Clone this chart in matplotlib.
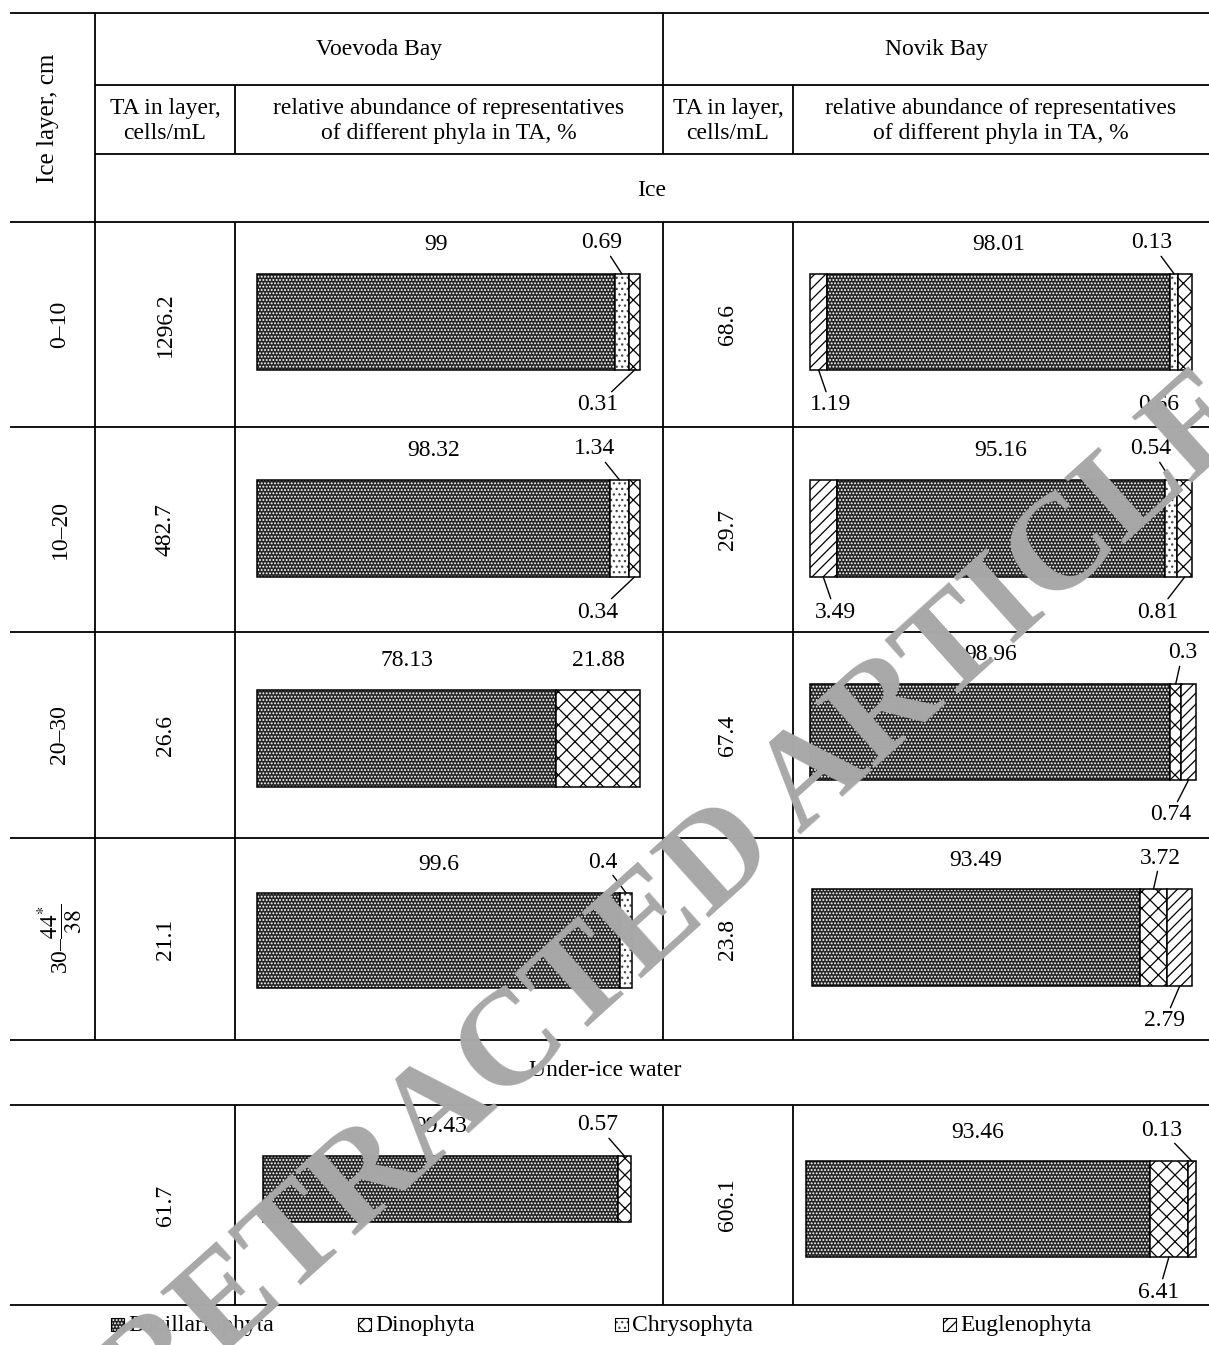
import matplotlib.pyplot as plt

plt.rcParams["font.family"] = ["Liberation Serif", "DejaVu Serif"]
plt.rcParams["mathtext.fontset"] = "stix"
plt.rcParams["hatch.linewidth"] = 0.9

W, H = 1209, 1345

# ---------------- data ----------------
phyla = ["Bacillariophyta", "Dinophyta", "Chrysophyta", "Euglenophyta"]
layers = ["0–10", "10–20", "20–30", "30–$\\dfrac{44^{*}}{38}$", ""]

ta_voevoda = [1296.2, 482.7, 26.6, 21.1, 61.7]
ta_novik = [68.6, 29.7, 67.4, 23.8, 606.1]

# segments of each bar, left to right
voevoda_names = [
    ["Bacillariophyta", "Chrysophyta", "Dinophyta"],
    ["Bacillariophyta", "Chrysophyta", "Dinophyta"],
    ["Bacillariophyta", "Dinophyta"],
    ["Bacillariophyta", "Chrysophyta"],
    ["Bacillariophyta", "Dinophyta"],
]
voevoda_pct = [
    [99, 0.69, 0.31],
    [98.32, 1.34, 0.34],
    [78.13, 21.88],
    [99.6, 0.4],
    [99.43, 0.57],
]
novik_names = [
    ["Euglenophyta", "Bacillariophyta", "Chrysophyta", "Dinophyta"],
    ["Euglenophyta", "Bacillariophyta", "Chrysophyta", "Dinophyta"],
    ["Bacillariophyta", "Dinophyta", "Euglenophyta"],
    ["Bacillariophyta", "Dinophyta", "Euglenophyta"],
    ["Bacillariophyta", "Dinophyta", "Euglenophyta"],
]
novik_pct = [
    [1.19, 98.01, 0.13, 0.66],
    [3.49, 95.16, 0.54, 0.81],
    [98.96, 0.3, 0.74],
    [93.49, 3.72, 2.79],
    [93.46, 6.41, 0.13],
]

# ---------------- layout / style ----------------
styles = {
    "Bacillariophyta": dict(face="#262626", hc="white", hatch="....."),
    "Dinophyta": dict(face="white", hc="black", hatch="xx"),
    "Chrysophyta": dict(face="white", hc="#444444", hatch="..."),
    "Euglenophyta": dict(face="white", hc="black", hatch="///"),
}

# label placement: main = above centre, top / bottom = with leader line
voevoda_sides = [["main", "top", "bottom"], ["main", "top", "bottom"],
                 ["main", "main"], ["main", "top"], ["main", "top"]]
novik_sides = [["bottom", "main", "top", "bottom"], ["bottom", "main", "top", "bottom"],
               ["main", "top", "bottom"], ["main", "top", "bottom"],
               ["main", "bottom", "top"]]
voevoda_dx = [[0, -20, -37], [0, -25, -37], [0, 0], [0, -23], [0, -27]]
novik_dx = [[12, 0, -23, -27], [12, 0, -20, -27], [0, 7, -18], [0, 7, -15], [0, -10, -30]]

# bar boxes in pixels (x0, x1, y0, y1)
voevoda_box = [(257, 640, 274, 370), (257, 640, 480, 577), (257, 640, 690, 787),
               (257, 632, 893, 988), (263, 631, 1156, 1222)]
novik_box = [(810, 1192, 274, 370), (810, 1192, 480, 577), (810, 1196, 684, 780),
             (812, 1192, 889, 986), (806, 1196, 1161, 1257)]

row_edges = [222, 427, 632, 838, 1040]
under_top, under_bot = 1105, 1305

fig = plt.figure(figsize=(W / 100, H / 100), dpi=100)
ax = fig.add_axes([0, 0, 1, 1])
ax.set_xlim(0, W)
ax.set_ylim(H, 0)
ax.axis("off")

lw = 1.3
# horizontal rules
for y in [13, 222, 427, 632, 838, 1040, under_top, under_bot]:
    ax.hlines(y, 10, W, color="black", lw=lw)
for y in [85, 154]:
    ax.hlines(y, 95, W, color="black", lw=lw)
# vertical rules
ax.vlines(95, 13, 1040, color="black", lw=lw)
for x in [235, 793]:
    ax.vlines(x, 85, 154, color="black", lw=lw)
    ax.vlines(x, 222, 1040, color="black", lw=lw)
    ax.vlines(x, under_top, under_bot, color="black", lw=lw)
ax.vlines(663, 13, 154, color="black", lw=lw)
ax.vlines(663, 222, 1040, color="black", lw=lw)
ax.vlines(663, under_top, under_bot, color="black", lw=lw)

fs = 17
ax.text(48, 118, "Ice layer, cm", rotation=90, ha="center", va="center", fontsize=18)
ax.text(379, 50, "Voevoda Bay", ha="center", va="center", fontsize=fs)
ax.text(936, 50, "Novik Bay", ha="center", va="center", fontsize=fs)
for xc in [165, 728]:
    ax.text(xc, 121, "TA in layer,\ncells/mL", ha="center", va="center",
            fontsize=fs, linespacing=1.25)
for xc in [449, 1001]:
    ax.text(xc, 121, "relative abundance of representatives\nof different phyla in TA, %",
            ha="center", va="center", fontsize=fs, linespacing=1.25)
ax.text(652, 190, "Ice", ha="center", va="center", fontsize=fs)
ax.text(605, 1070, "Under-ice water", ha="center", va="center", fontsize=fs)

# row texts
row_centers = [(a + b) / 2 for a, b in zip(row_edges[:-1], row_edges[1:])]
row_centers.append((under_top + under_bot) / 2)
for yc, lab, tv, tn in zip(row_centers, layers, ta_voevoda, ta_novik):
    if lab:
        ax.text(60, yc, lab, rotation=90, ha="center", va="center", fontsize=fs)
    ax.text(165, yc, f"{tv:g}", rotation=90, ha="center", va="center", fontsize=fs)
    ax.text(728, yc, f"{tn:g}", rotation=90, ha="center", va="center", fontsize=fs)


def draw_bar(box, names, pct, sides, dxs):
    x0, x1, y0, y1 = box
    bax = fig.add_axes([x0 / W, 1 - y1 / H, (x1 - x0) / W, (y1 - y0) / H])
    bax.set_xlim(0, 100)
    bax.set_ylim(0, 1)
    bax.axis("off")
    # small shares are drawn wider so they stay visible
    shown = [v if v >= 10 else 1 + 3.6 * v ** 0.5 for v in pct]
    tot = sum(shown)
    widths = [s * 100 / tot for s in shown]
    left = 0
    for name, v, w, side, dx in zip(names, pct, widths, sides, dxs):
        st = styles[name]
        bax.barh(0.5, w, left=left, height=1, color=st["face"], edgecolor=st["hc"],
                 hatch=st["hatch"], linewidth=0, clip_on=False)
        bax.barh(0.5, w, left=left, height=1, fill=False, edgecolor="black",
                 linewidth=1.1, clip_on=False)
        cx = left + w / 2
        txt = f"{v:g}"
        if side == "main":
            bax.annotate(txt, xy=(cx, 1), xytext=(0, 29), textcoords="offset pixels",
                         ha="center", va="center", fontsize=fs, annotation_clip=False)
        elif side == "top":
            bax.annotate(txt, xy=(cx, 1), xytext=(dx, 31), textcoords="offset pixels",
                         ha="center", va="center", fontsize=fs, annotation_clip=False,
                         arrowprops=dict(arrowstyle="-", lw=1, shrinkA=0, shrinkB=0))
        else:
            bax.annotate(txt, xy=(cx, 0), xytext=(dx, -35), textcoords="offset pixels",
                         ha="center", va="center", fontsize=fs, annotation_clip=False,
                         arrowprops=dict(arrowstyle="-", lw=1, shrinkA=0, shrinkB=0))
        left += w


for i in range(5):
    draw_bar(voevoda_box[i], voevoda_names[i], voevoda_pct[i], voevoda_sides[i], voevoda_dx[i])
    draw_bar(novik_box[i], novik_names[i], novik_pct[i], novik_sides[i], novik_dx[i])

# legend
leg_x = [111, 358, 615, 943]
for name, lx in zip(phyla, leg_x):
    st = styles[name]
    ax.add_patch(plt.Rectangle((lx, 1318), 13, 13, facecolor=st["face"],
                               edgecolor=st["hc"], hatch=st["hatch"], lw=0))
    ax.add_patch(plt.Rectangle((lx, 1318), 13, 13, fill=False, edgecolor="black", lw=0.8))
    ax.text(lx + 17, 1325, name, ha="left", va="center", fontsize=fs)

# watermark
fig.text(680 / W, 1 - 900 / H, "RETRACTED ARTICLE", rotation=42, rotation_mode="anchor",
         ha="center", va="center", fontsize=98, fontweight="bold", color="#a8a8a8",
         family="Liberation Serif", zorder=20)

fig.savefig("out.png", dpi=100)
